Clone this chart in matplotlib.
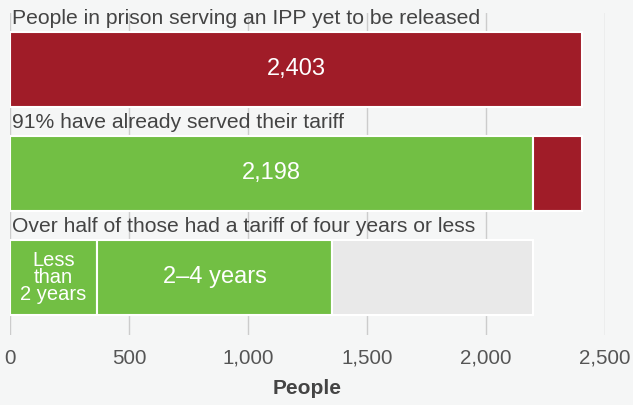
import matplotlib.pyplot as plt
from matplotlib.ticker import FuncFormatter

# data
rows = ["People in prison serving an IPP yet to be released",
        "91% have already served their tariff",
        "Over half of those had a tariff of four years or less"]
total_ipp = 2403
served_tariff = 2198
tariff_lt2 = 365
tariff_2to4 = 990
seg_labels = ["Less\nthan\n2 years", "2\u20134 years"]
xticks = [0, 500, 1000, 1500, 2000, 2500]

RED = "#a01c28"
GREEN = "#72bf44"
GREY = "#e9e9e9"
BG = "#f5f6f6"
TXT = "#444444"

plt.rcParams["font.family"] = ["Liberation Sans", "DejaVu Sans"]

fig = plt.figure(figsize=(6.33, 4.05), dpi=100, facecolor=BG)
ax = fig.add_axes([10 / 633, 1 - 335 / 405, 595 / 633, 322 / 405], facecolor=BG)

h = 0.72
kw = dict(height=h, edgecolor="white", linewidth=1.5, zorder=2)

# row 0: all IPP prisoners
ax.barh(0, total_ipp, color=RED, **kw)
# row 1: served tariff vs not
ax.barh(1, served_tariff, color=GREEN, **kw)
ax.barh(1, total_ipp - served_tariff, left=served_tariff, color=RED, **kw)
# row 2: breakdown of tariff lengths
ax.barh(2, tariff_lt2, color=GREEN, **kw)
ax.barh(2, tariff_2to4, left=tariff_lt2, color=GREEN, **kw)
rest = served_tariff - tariff_lt2 - tariff_2to4
ax.barh(2, rest, left=tariff_lt2 + tariff_2to4, color=GREY, **kw)

# labels inside bars
ax.text(total_ipp / 2, 0, f"{total_ipp:,}", color="white", fontsize=17,
        ha="center", va="center", zorder=3)
ax.text(served_tariff / 2, 1, f"{served_tariff:,}", color="white", fontsize=17,
        ha="center", va="center", zorder=3)
ax.text(tariff_lt2 / 2, 2, seg_labels[0], color="white", fontsize=14.5,
        ha="center", va="center", linespacing=0.85, zorder=3)
ax.text(tariff_lt2 + tariff_2to4 / 2, 2, seg_labels[1], color="white", fontsize=17,
        ha="center", va="center", zorder=3)

# row titles
for i, t in enumerate(rows):
    ax.text(8, i - h / 2 - 0.035, t, color=TXT, fontsize=15.2,
            ha="left", va="bottom", zorder=3)

ax.set_xlim(0, 2500)
ax.set_ylim(2.553, -0.543)
ax.set_xticks(xticks)
ax.xaxis.set_major_formatter(FuncFormatter(lambda v, p: f"{int(v):,}"))
ax.set_yticks([])
ax.grid(axis="x", color="#cccccc", linewidth=1, zorder=0)
ax.tick_params(axis="x", length=0, pad=10, labelsize=14.8, labelcolor="#555555")
for s in ax.spines.values():
    s.set_visible(False)
ax.set_xlabel("People", fontsize=15, fontweight="bold", color=TXT, labelpad=8)

fig.savefig("out.png", dpi=100, facecolor=BG)
